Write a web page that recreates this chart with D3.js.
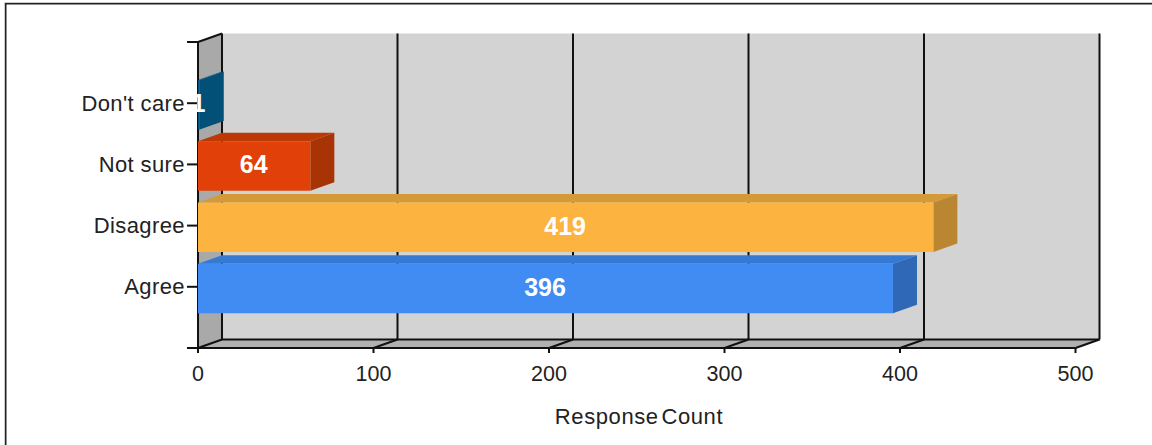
<!DOCTYPE html>
<html><head><meta charset="utf-8">
<script src="https://cdn.jsdelivr.net/npm/d3@7/dist/d3.min.js"></script>
<style>html,body{margin:0;padding:0;background:#fff}svg{display:block}text{font-family:"Liberation Sans",Arial,sans-serif}</style>
</head><body><svg id="c" width="1152" height="445"></svg>
<script>
const categories = ["Don't care","Not sure","Disagree","Agree"];
const values = [1,64,419,396];
const frontColors = ["#024f78","#e14109","#fdb33f","#408cf2"];
const topColors = ["#024f78","#bc3906","#d59a38","#3679d2"];
const sideColors = ["#024f78","#a83304","#bb8631","#2f68b6"];
const xTicks = [0,100,200,300,400,500];
const xTitle = "Response Count";

const W=1152,H=445,dx=24,dy=-8.5;
const svg=d3.select("#c");
const x=d3.scaleLinear().domain([0,500]).range([198,1075.5]);
const y=d3.scalePoint().domain(categories).range([42,348]).padding(1);
const top0=y.range()[0],bot=y.range()[1],barH=49.5;
const poly=(pts,fill,stroke)=>svg.append("polygon").attr("points",pts.map(p=>p.join(",")).join(" ")).attr("fill",fill).attr("stroke",stroke||"none");
const line=(a,b,w=2)=>svg.append("line").attr("x1",a[0]).attr("y1",a[1]).attr("x2",b[0]).attr("y2",b[1]).attr("stroke","#111").attr("stroke-width",w);

// page frame: top and left edges only
svg.append("path").attr("d",`M4.5,${H} V2.5 H${W}`).attr("fill","none").attr("stroke","#ccc").attr("stroke-width",1);
svg.append("path").attr("d",`M5.75,${H} V3.75 H${W}`).attr("fill","none").attr("stroke","#222").attr("stroke-width",1.5);

// walls
const x0=x(0),x1=x(500);
poly([[x0+dx,top0+dy],[x1+dx,top0+dy],[x1+dx,bot+dy],[x0+dx,bot+dy]],"#d3d3d3");
poly([[x0,top0],[x0+dx,top0+dy],[x0+dx,bot+dy],[x0,bot]],"#a9a9a9");
poly([[x0,bot],[x0+dx,bot+dy],[x1+dx,bot+dy],[x1,bot]],"#b0b0b0");

// grid
xTicks.forEach(t=>{
  const px=x(t);
  line([px+dx,top0+dy],[px+dx,bot+dy]);
  line([px,bot],[px+dx,bot+dy]);
  line([px,bot],[px,bot+5]);
});
line([x0,top0],[x0+dx,top0+dy]);
line([x0,top0],[x0,bot+4]);
line([x0+dx,bot+dy],[x1+dx,bot+dy]);
line([x0-11,bot],[x1,bot]);
line([x0-11,top0],[x0,top0]);

// y axis ticks and labels
categories.forEach(c=>{
  line([x0-11,y(c)],[x0,y(c)]);
  svg.append("text").attr("x",x0-13).attr("y",y(c)+7.5).attr("text-anchor","end").attr("font-size",22).attr("letter-spacing",0.4).attr("fill","#222").text(c);
});

// bars
categories.forEach((c,i)=>{
  const a=x0,b=x(values[i]),t=y(c)-barH/2+1.6,u=t+barH;
  poly([[a,t],[a+dx,t+dy],[b+dx,t+dy],[b,t]],topColors[i]);
  poly([[b,t],[b+dx,t+dy],[b+dx,u+dy],[b,u]],sideColors[i]);
  poly([[a,t],[b,t],[b,u],[a,u]],frontColors[i]);
  svg.append("text").attr("x",(a+b)/2-0.5).attr("y",y(c)+9).attr("text-anchor","middle").attr("font-size",25).attr("font-weight","bold").attr("fill","#fff").text(values[i]);
});

// x tick labels
xTicks.forEach(t=>{
  svg.append("text").attr("x",x(t)).attr("y",381).attr("text-anchor","middle").attr("font-size",21.5).attr("fill","#222").text(t);
});
svg.append("text").attr("x",639).attr("y",423.5).attr("text-anchor","middle").attr("font-size",22).attr("letter-spacing",0.6).attr("word-spacing",-4).attr("fill","#222").text(xTitle);
</script></body></html>
